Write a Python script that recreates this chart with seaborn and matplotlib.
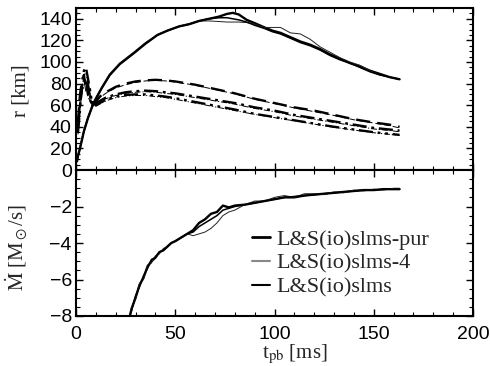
import numpy as np
import pandas as pd
import matplotlib
matplotlib.use("Agg")
import matplotlib.pyplot as plt
from matplotlib.lines import Line2D
from matplotlib.ticker import MultipleLocator
import seaborn as sns

# ---------------- data ----------------
models = ["L&S(io)slms-pur", "L&S(io)slms-4", "L&S(io)slms"]

# shock radius (solid)
t_rs = [0.5, 1, 2, 3, 4, 6, 8, 10, 13, 17, 22, 29, 35, 41, 46, 52, 57, 62, 67, 72,
        76, 79, 82, 86, 90, 95, 99, 103, 108, 113, 118, 123, 128, 133, 138, 143, 148, 153, 158, 163]
rs_pur = [8, 13, 20, 28, 36, 48, 58, 66, 76, 88, 98, 108, 117, 125, 129, 133, 135, 138, 140, 142,
          144.5, 145.5, 144, 139, 136, 132, 129, 127, 123, 119, 116, 112, 107, 103, 99, 96, 92, 89, 86, 84]
rs_4 = [9, 14, 21, 29, 37, 49, 59, 67, 77, 89, 99, 109, 118, 125, 129, 133, 135.5, 138, 138, 137.5,
        137, 137, 137, 136.5, 135, 132, 132, 132, 127, 126, 121, 114, 109, 104, 100, 97, 92, 88, 86, 84]
rs_slms = [8, 13, 20, 28, 36, 48, 58, 66, 76, 88, 98, 108, 117, 125, 129, 133, 135, 138, 140, 141,
           141, 140, 139, 137, 134, 131, 128, 126, 122, 118, 115, 111, 106, 102, 99, 95, 91, 88, 86, 84]

# other radii (dashed, dash-dot, dash-dot-dot)
t_r2 = [1, 2, 3, 4, 5, 6, 7, 8, 10, 12, 15, 20, 25, 30, 35, 40, 45, 50, 60, 70,
        80, 90, 100, 110, 120, 130, 140, 150, 158, 163]
rd_pur = [45, 70, 82, 88, 75, 80, 68, 62, 64, 68, 72, 77, 80, 82, 83, 83.5, 83, 82, 79, 75,
          71, 66, 62, 58, 55, 51, 47, 44, 42, 40]
rd_4 = [42, 66, 80, 84, 72, 76, 66, 60, 63, 67, 71, 76, 79, 81, 82.5, 83, 82.5, 81.5, 78.5, 74.5,
        70.5, 65.5, 61.5, 57.5, 54, 50.5, 46.5, 43.5, 41, 39]
rdd_pur = [40, 60, 75, 80, 85, 70, 66, 60, 62, 64, 67, 70, 72, 73, 73.5, 73, 72, 71, 68, 65,
           62, 58, 55, 51, 48, 45, 42, 39, 37.5, 36.5]
rdd_4 = [38, 58, 72, 78, 82, 68, 64, 59, 61, 63, 66, 69, 71, 72, 72.5, 72, 71, 70, 67, 64,
         61, 57, 54, 50, 47, 44, 41, 38, 36.5, 35.5]
rddd_pur = [35, 55, 80, 92, 95, 85, 75, 63, 60, 62, 65, 68, 69.5, 70, 70, 69, 68, 66.5, 63, 59.5,
            56, 52, 49, 46, 43, 40, 37.5, 35, 33.5, 32.5]
rddd_4 = [33, 52, 76, 88, 90, 80, 72, 62, 59, 61, 64, 67, 68.5, 69, 69, 68, 67, 65.5, 62, 58.5,
          55, 51.5, 48.5, 45.5, 42.5, 39.5, 37, 34.5, 33, 32]

# mass accretion rate
t_m = [24, 26, 28, 30, 32, 34, 36, 38, 40, 42, 44, 46, 48, 50, 53, 56, 59, 62, 65, 68, 71,
       74, 77, 80, 85, 90, 95, 100, 105, 110, 115, 120, 125, 130, 135, 140, 145, 150, 155, 160, 163]
md_pur = [-9.5, -8.5, -7.6, -7.0, -6.3, -5.9, -5.3, -5.0, -4.8, -4.5, -4.4, -4.2, -4.0, -3.9, -3.7,
          -3.5, -3.3, -2.9, -2.7, -2.4, -2.3, -1.95, -2.05, -1.95, -1.9, -1.8, -1.7, -1.6, -1.5, -1.5,
          -1.4, -1.35, -1.3, -1.25, -1.2, -1.15, -1.1, -1.1, -1.05, -1.05, -1.05]
md_4 = [-9.6, -8.6, -7.5, -7.1, -6.2, -6.0, -5.2, -5.1, -4.7, -4.6, -4.3, -4.2, -4.0, -3.9, -3.7,
        -3.5, -3.6, -3.5, -3.4, -3.2, -2.9, -2.5, -2.3, -2.2, -1.9, -1.7, -1.7, -1.5, -1.4, -1.5,
        -1.3, -1.3, -1.35, -1.2, -1.25, -1.1, -1.15, -1.05, -1.1, -1.0, -1.0]
md_slms = [-9.4, -8.4, -7.7, -6.9, -6.4, -5.8, -5.4, -4.9, -4.8, -4.5, -4.4, -4.2, -4.0, -3.9, -3.7,
           -3.5, -3.4, -3.1, -2.9, -2.7, -2.5, -2.2, -2.1, -2.0, -1.9, -1.8, -1.7, -1.6, -1.5, -1.45,
           -1.4, -1.35, -1.3, -1.25, -1.2, -1.15, -1.1, -1.1, -1.05, -1.05, -1.05]

# ---------------- styling ----------------
sns.set_theme(style="ticks")
plt.rcParams["font.family"] = ["Liberation Sans", "DejaVu Sans"]
plt.rcParams["mathtext.fontset"] = "stix"
plt.rcParams["axes.linewidth"] = 1.5

fig = plt.figure(figsize=(4.9, 3.66), dpi=100)
ax1 = fig.add_axes([76/490, 1-170/366, (473-76)/490, (170-8)/366])
ax2 = fig.add_axes([76/490, 1-316/366, (473-76)/490, (316-170)/366])

thick, thin, mid = 1.7, 0.7, 1.1
col_pur, col_4, col_slms = "black", "#222222", "black"

dash = (0, (6, 3))
dashdot = (0, (6, 2, 1.2, 2))
dashdotdot = (0, (6, 2, 1.2, 2, 1.2, 2))

# top panel
sns.lineplot(x=t_rs, y=rs_pur, ax=ax1, color=col_pur, lw=thick, sort=False)
sns.lineplot(x=t_rs, y=rs_4, ax=ax1, color=col_4, lw=thin, sort=False)
sns.lineplot(x=t_rs, y=rs_slms, ax=ax1, color=col_slms, lw=mid, sort=False)

sns.lineplot(x=t_r2, y=rd_pur, ax=ax1, color="black", lw=thick, sort=False, linestyle=dash)
sns.lineplot(x=t_r2, y=rd_4, ax=ax1, color="black", lw=thin, sort=False, linestyle=dash)
sns.lineplot(x=t_r2, y=rdd_pur, ax=ax1, color="black", lw=thick, sort=False, linestyle=dashdot)
sns.lineplot(x=t_r2, y=rdd_4, ax=ax1, color="black", lw=thin, sort=False, linestyle=dashdot)
sns.lineplot(x=t_r2, y=rddd_pur, ax=ax1, color="black", lw=thick, sort=False, linestyle=dashdotdot)
sns.lineplot(x=t_r2, y=rddd_4, ax=ax1, color="black", lw=thin, sort=False, linestyle=dashdotdot)

# bottom panel
sns.lineplot(x=t_m, y=md_pur, ax=ax2, color=col_pur, lw=thick, sort=False)
sns.lineplot(x=t_m, y=md_4, ax=ax2, color=col_4, lw=thin, sort=False)
sns.lineplot(x=t_m, y=md_slms, ax=ax2, color=col_slms, lw=mid, sort=False)

for ax in (ax1, ax2):
    ax.set_xlim(0, 200)
    ax.xaxis.set_major_locator(MultipleLocator(50))
    ax.xaxis.set_minor_locator(MultipleLocator(10))
    ax.tick_params(which="both", direction="in", top=True, right=True, colors="black",
                   labelsize=14)
    ax.tick_params(axis="y", pad=3)
    ax.tick_params(axis="x", pad=7)
    ax.tick_params(which="major", length=5, width=1)
    ax.tick_params(which="minor", length=3, width=0.8)
    for s in ax.spines.values():
        s.set_color("black")
        s.set_linewidth(1.5)
    ax.set_facecolor("white")

ax1.set_ylim(0, 150)
ax1.yaxis.set_major_locator(MultipleLocator(20))
ax1.yaxis.set_minor_locator(MultipleLocator(5))
ax1.tick_params(axis="x", labelbottom=False)
ax1.set_xlabel("")

ax2.set_ylim(-8, 0)
ax2.yaxis.set_major_locator(MultipleLocator(2))
ax2.yaxis.set_minor_locator(MultipleLocator(0.5))
ax2.set_yticks([-8, -6, -4, -2])

lab_font = dict(family="Liberation Serif", size=15)
ax1.set_ylabel("r [km]", **lab_font)
ax2.set_ylabel(r"$\dot{\mathrm{M}}$ [M$_\odot$/s]", **lab_font)
ax2.set_xlabel(r"t$_{\mathrm{pb}}$ [ms]", **lab_font)
ax1.yaxis.set_label_coords(-0.115, 0.49)
ax2.yaxis.set_label_coords(-0.115, 0.47)
ax2.xaxis.set_label_coords(0.55, -0.185)

handles = [Line2D([], [], color="black", lw=2.0),
           Line2D([], [], color="#888888", lw=1.5),
           Line2D([], [], color="black", lw=1.5)]
fig.legend(handles, models, loc="upper left", bbox_to_anchor=(252/490, 1-229/366),
           frameon=False, prop=dict(family="Liberation Serif", size=16),
           handlelength=0.8, handletextpad=0.3, labelspacing=0.15, borderpad=0,
           borderaxespad=0)

fig.savefig("out.png", dpi=100)
